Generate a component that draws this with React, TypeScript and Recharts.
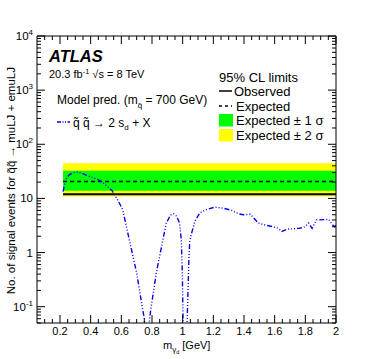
import React from 'react';
import { ComposedChart, Line, Area, XAxis, YAxis, ReferenceLine } from 'recharts';

// signal prediction (model m_sq = 700 GeV)
const massPoints = [
  0.22, 0.237, 0.259, 0.28, 0.313, 0.34, 0.369, 0.4, 0.423, 0.45, 0.477, 0.5, 0.521, 0.539, 0.557,
  0.576, 0.609, 0.652, 0.7, 0.736, 0.75, 0.767, 0.784, 0.795, 0.828, 0.871, 0.893, 0.92, 0.941,
  0.96, 0.98, 0.991, 0.998, 1.002, 1.018, 1.035, 1.041, 1.046, 1.057, 1.079, 1.112, 1.155, 1.21,
  1.264, 1.32, 1.363, 1.396, 1.44, 1.461, 1.494, 1.549, 1.592, 1.625, 1.647, 1.68, 1.756, 1.789,
  1.822, 1.844, 1.872, 1.953, 1.975, 1.99, 2.0,
];
const signalEvents = [
  13.4, 22, 27, 29.5, 30.5, 29.5, 27, 25, 23.7, 22, 20, 17.5, 15.5, 14, 11.5,
  9.4, 6.2, 1.72, 0.42, 0.1, 0.06, 0.005, 0.06, 0.1, 0.42, 1.72, 3.5, 4.9, 5.2,
  4.7, 3.5, 1.72, 0.42, 0.06, 0.005, 0.2, 0.85, 1.6, 2.2, 3.75, 5.4, 6.2, 6.9,
  6.6, 6.0, 5.2, 5.0, 5.1, 4.45, 3.5, 3.16, 3.0, 2.8, 2.45, 2.7, 2.8, 2.9,
  3.5, 2.8, 4.0, 4.1, 3.3, 3.0, 3.2,
];

// 95% CL limits (flat in mass)
const limitMass = [0.22, 2.0];
const observedLimit = [12.0, 12.0];
const expectedLimit = [20.5, 20.5];
const oneSigmaLow = [13.8, 13.8];
const oneSigmaHigh = [32.3, 32.3];
const twoSigmaLow = [10.8, 10.8];
const twoSigmaHigh = [44.8, 44.8];

const xMajorTicks = [0.2, 0.4, 0.6, 0.8, 1, 1.2, 1.4, 1.6, 1.8, 2];
const yMajorTicks = [0.1, 1, 10, 100, 1000, 10000];
const yTickLabels: Record<string, [string, string]> = {
  '0.1': ['10', '-1'],
  '1': ['1', ''],
  '10': ['10', ''],
  '100': ['10', '2'],
  '1000': ['10', '3'],
  '10000': ['10', '4'],
};

const signalData = massPoints.map((m, i) => ({ m, v: signalEvents[i] }));
const limitData = limitMass.map((m, i) => ({
  m,
  obs: observedLimit[i],
  exp: expectedLimit[i],
  s1: [oneSigmaLow[i], oneSigmaHigh[i]],
  s2: [twoSigmaLow[i], twoSigmaHigh[i]],
}));

// minor ticks every 0.05 on x, 2..9 per decade on y
const xTicks: number[] = [];
for (let k = 2; k <= 40; k++) xTicks.push(Math.round(k * 5) / 100);
const yTicks: number[] = [0.05, 0.06, 0.07, 0.08, 0.09];
for (let e = -1; e < 4; e++) {
  for (let d = 1; d <= 9; d++) yTicks.push(Number((d * Math.pow(10, e)).toPrecision(3)));
}
yTicks.push(10000);

const W = 374;
const H = 359;
const PLOT_LEFT = 37;
const PLOT_RIGHT = 336;
const PLOT_TOP = 36;
const PLOT_BOTTOM = 323;
const FONT = '"Liberation Sans", Arial, Helvetica, sans-serif';

const isXMajor = (v: number) => Math.round(v * 100) % 20 === 0;
const isYMajor = (v: number) => yMajorTicks.some(t => Math.abs(t - v) / t < 1e-6);

const XTick = ({ x, y, payload }: any) => {
  const v = payload.value;
  const major = isXMajor(v);
  const len = major ? 8 : 4;
  return (
    <g>
      <line x1={x} y1={y} x2={x} y2={y - len} stroke="#000" strokeWidth={1} />
      <line x1={x} y1={PLOT_TOP} x2={x} y2={PLOT_TOP + len} stroke="#000" strokeWidth={1} />
      {major && (
        <text x={x} y={y + 12} textAnchor="middle" fontSize={11} fontFamily={FONT} fill="#000">
          {String(Number(v.toFixed(1)))}
        </text>
      )}
    </g>
  );
};

const YTick = ({ x, y, payload }: any) => {
  const v = payload.value;
  const major = isYMajor(v);
  const len = major ? 8 : 4;
  const label = major ? yTickLabels[String(v)] : null;
  return (
    <g>
      <line x1={x} y1={y} x2={x + len} y2={y} stroke="#000" strokeWidth={1} />
      <line x1={PLOT_RIGHT} y1={y} x2={PLOT_RIGHT - len} y2={y} stroke="#000" strokeWidth={1} />
      {label && (
        <text x={x - 4} y={y + 4} textAnchor="end" fontSize={11.5} fontFamily={FONT} fill="#000">
          {label[0]}
          {label[1] && (
            <tspan dy={-5} fontSize={8}>
              {label[1]}
            </tspan>
          )}
        </text>
      )}
    </g>
  );
};

export default function App() {
  return (
    <div style={{ position: 'absolute', left: 0, top: 0, width: W, height: H, background: '#fff' }}>
      <ComposedChart
        width={W}
        height={H}
        margin={{ top: PLOT_TOP, right: W - PLOT_RIGHT, bottom: 16, left: 7 }}
      >
        <XAxis
          dataKey="m"
          type="number"
          domain={[0.05, 2]}
          allowDataOverflow
          ticks={xTicks}
          interval={0}
          tick={<XTick />}
          tickLine={false}
          tickSize={0}
          tickMargin={0}
          height={PLOT_BOTTOM - 323 + 20}
          axisLine={{ stroke: '#000', strokeWidth: 1 }}
        />
        <YAxis
          type="number"
          scale="log"
          domain={[0.05, 10000]}
          allowDataOverflow
          ticks={yTicks}
          interval={0}
          tick={<YTick />}
          tickLine={false}
          tickSize={0}
          tickMargin={0}
          width={30}
          axisLine={{ stroke: '#000', strokeWidth: 1 }}
        />
        <Area
          data={limitData}
          dataKey="s2"
          type="linear"
          stroke="none"
          fill="#ffff00"
          fillOpacity={1}
          isAnimationActive={false}
        />
        <Area
          data={limitData}
          dataKey="s1"
          type="linear"
          stroke="none"
          fill="#00ff00"
          fillOpacity={1}
          isAnimationActive={false}
        />
        <Line
          data={limitData}
          dataKey="exp"
          type="linear"
          stroke="#000"
          strokeWidth={1.5}
          strokeDasharray="4 3"
          dot={false}
          isAnimationActive={false}
        />
        <Line
          data={limitData}
          dataKey="obs"
          type="linear"
          stroke="#000"
          strokeWidth={2}
          dot={false}
          isAnimationActive={false}
        />
        <Line
          data={signalData}
          dataKey="v"
          type="linear"
          stroke="#0000ff"
          strokeWidth={1.4}
          strokeDasharray="5 2 1 2 1 2 1 2"
          dot={false}
          isAnimationActive={false}
        />
        <ReferenceLine y={10000} stroke="#000" strokeWidth={1} />
        <ReferenceLine x={2} stroke="#000" strokeWidth={1} />
      </ComposedChart>

      <svg
        width={W}
        height={H}
        style={{ position: 'absolute', left: 0, top: 0, pointerEvents: 'none' }}
        fontFamily={FONT}
      >
        <text x={49} y={62} fontSize={16.5} fontWeight="bold" fontStyle="italic">ATLAS</text>
        <text x={49} y={78} fontSize={11}>
          20.3 fb<tspan dy={-4} fontSize={7.5}>-1</tspan>
          <tspan dy={4}> √s = 8 TeV</tspan>
        </text>
        <text x={57} y={104} fontSize={12}>
          Model pred. (m<tspan dy={4} fontSize={8}>q̃</tspan>
          <tspan dy={-4}> = 700 GeV)</tspan>
        </text>
        <line x1={57} y1={122} x2={70} y2={122} stroke="#0000ff" strokeWidth={1.4} strokeDasharray="4 1.5 1 1.5 1 1.5" />
        <text x={73} y={127} fontSize={12}>
          q̃ q̃ → 2 s<tspan dy={3} fontSize={8}>d</tspan>
          <tspan dy={-3}> + X</tspan>
        </text>

        <text x={219} y={82} fontSize={13}>95% CL limits</text>
        <line x1={219} y1={91} x2={232} y2={91} stroke="#000" strokeWidth={1.5} />
        <text x={234} y={96} fontSize={13}>Observed</text>
        <line x1={219} y1={106} x2={232} y2={106} stroke="#000" strokeWidth={1.5} strokeDasharray="3 3" />
        <text x={236} y={111} fontSize={13}>Expected</text>
        <rect x={219} y={114} width={14} height={12.5} fill="#00ff00" />
        <text x={236} y={124.5} fontSize={13}>Expected ± 1 σ</text>
        <rect x={219} y={129} width={14} height={12.5} fill="#ffff00" />
        <text x={236} y={139.5} fontSize={13}>Expected ± 2 σ</text>

        <text
          transform="translate(15,67) rotate(-90)"
          x={0}
          y={0}
          textAnchor="end"
          fontSize={11.5}
        >
          No. of signal events for q̃q̃ → muLJ + emuLJ
        </text>
        <text x={163} y={349} fontSize={11}>
          m<tspan dy={3} fontSize={8}>γ</tspan>
          <tspan dy={2} fontSize={5.5}>d</tspan>
          <tspan dy={-5}> [GeV]</tspan>
        </text>
      </svg>
    </div>
  );
}
